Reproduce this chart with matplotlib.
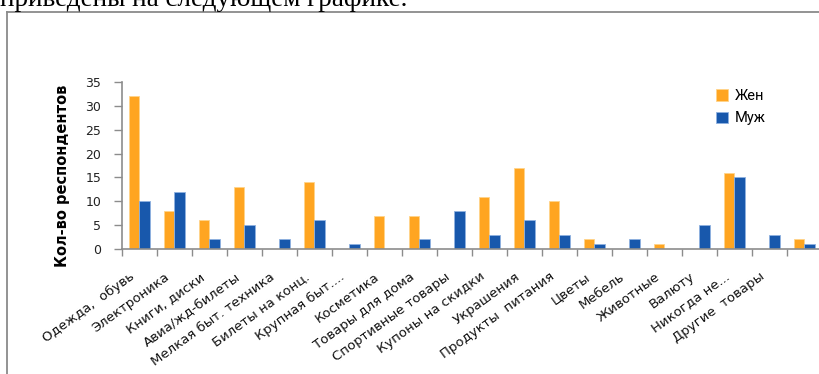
import numpy as np
import matplotlib
matplotlib.use('Agg')
import matplotlib.pyplot as plt
from matplotlib.lines import Line2D
from matplotlib.transforms import ScaledTranslation

# survey: what respondents buy online, by gender
categories = ['Одежда,  обувь', 'Электроника', 'Книги, диски', 'Авиа/жд-билеты',
              'Мелкая быт. техника', 'Билеты на конц.', 'Крупная быт....', 'Косметика',
              'Товары для дома', 'Спортивные товары', 'Купоны на скидки', 'Украшения',
              'Продукты  питания', 'Цветы', 'Мебель', 'Животные', 'Валюту',
              'Никогда не...', 'Другие  товары', '']
women = [32, 8, 6, 13, 0, 14, 0, 7, 7, 0, 11, 17, 10, 2, 0, 1, 0, 16, 0, 2]
men = [10, 12, 2, 5, 2, 6, 1, 0, 2, 8, 3, 6, 3, 1, 2, 0, 5, 15, 3, 1]
y_ticks = [0, 5, 10, 15, 20, 25, 30, 35]

W, H = 820, 374
fig = plt.figure(figsize=(W / 100, H / 100), dpi=100)

# document text above the chart (cut off at the top)
fig.text(0.0, 1 - 6 / H, 'приведены на следующем графике.', family='Liberation Serif',
         fontsize=19.5, color='black', va='baseline', ha='left')

# chart frame
frame_col = '#8a8a8a'
fig.add_artist(Line2D([7 / W, 1.0], [1 - 12 / H, 1 - 12 / H], color=frame_col, lw=1.3,
                      transform=fig.transFigure))
fig.add_artist(Line2D([7 / W, 7 / W], [0.0, 1 - 12 / H], color=frame_col, lw=1.3,
                      transform=fig.transFigure))

ax = fig.add_axes([122 / W, 1 - 249 / H, 700 / W, 167 / H])

x = np.arange(len(categories)) + 0.5
bw = 0.29
ax.bar(x - bw / 2, women, width=bw, color='#FFA521', edgecolor='#FFD48A', linewidth=0.6,
       label='Жен')
ax.bar(x + bw / 2, men, width=bw, color='#1858AC', edgecolor='#8FB2E0', linewidth=0.6,
       label='Муж')

ax.set_xlim(0, len(categories))
ax.set_ylim(0, 35)

axis_col = '#8c8c8c'
for s in ['top', 'right']:
    ax.spines[s].set_visible(False)
for s in ['left', 'bottom']:
    ax.spines[s].set_color(axis_col)
    ax.spines[s].set_linewidth(1.2)

ax.set_yticks(y_ticks)
ax.tick_params(axis='y', direction='out', length=6, width=1, color=axis_col,
               labelsize=9, labelcolor='#222222', pad=9)

# boundary ticks as major, category labels on minor ticks
ax.set_xticks(np.arange(len(categories) + 1))
ax.set_xticklabels([])
ax.set_xticks(x, minor=True)
ax.set_xticklabels(categories, minor=True, rotation=36, ha='right', va='top',
                   rotation_mode='anchor', fontsize=9.5, color='#111111')
ax.tick_params(axis='x', which='major', direction='out', length=5, width=1, color=axis_col)
ax.tick_params(axis='x', which='minor', length=0, pad=8)
# nudge labels so their ends sit left of and below the group centre
shift = ScaledTranslation(-10 / 100, -10 / 100, fig.dpi_scale_trans)
for lbl in ax.get_xticklabels(minor=True):
    lbl.set_transform(lbl.get_transform() + shift)

ax.set_ylabel('Кол-во респондентов', fontsize=10.5, fontweight='bold')
ax.yaxis.set_label_coords(-52 / 700, 73 / 167)

ax.legend(loc='upper left', bbox_to_anchor=(703 / W, 1 - 76 / H),
          bbox_transform=fig.transFigure, frameon=False,
          prop={'family': ['Roboto', 'DejaVu Sans'], 'size': 10.5},
          handlelength=0.8, handleheight=0.8, handletextpad=0.5, labelspacing=0.55)

fig.savefig('out.png', dpi=100)
